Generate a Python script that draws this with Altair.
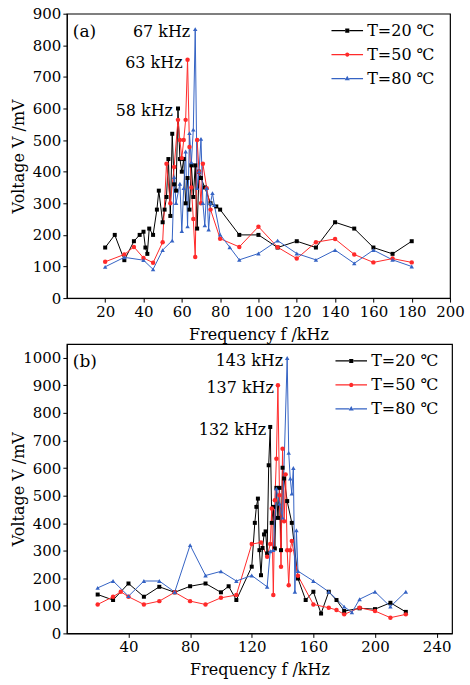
import altair as alt
import pandas as pd

SERIES = ["T=20 ℃", "T=50 ℃", "T=80 ℃"]
COLORS = ["#000000", "#ff2a2a", "#3563c4"]
SHAPES = ["square", "circle", "triangle-up"]
MARK_SIZES = [16, 20, 20]
FONT = "DejaVu Serif"

# ---------------- panel (a) ----------------
a20_f = [20, 25, 30, 35, 38, 40, 41, 42, 43, 45, 47, 48, 50, 51, 52, 53, 54, 55, 56, 57, 58, 59, 60, 61, 62, 63,
         64, 65, 66, 67, 68, 69, 70, 72, 75, 78, 80, 90, 100, 110, 120, 130, 140, 150, 160, 170, 180]
a20_v = [160, 200, 120, 180, 200, 210, 160, 140, 220, 200, 280, 340, 240, 280, 320, 440, 260, 520, 360, 340, 600, 440,
         400, 440, 300, 380, 280, 420, 320, 420, 220, 400, 380, 350, 300, 290, 280, 200, 200, 160, 180, 160, 240, 220,
         160, 140, 180]

a50_f = [20, 30, 35, 40, 45, 50, 52, 54, 56, 58, 59, 60, 61, 62, 63, 64, 65, 66, 67, 68, 69, 70, 71, 73, 75, 80, 90,
         100, 110, 120, 130, 140, 150, 160, 170, 180]
a50_v = [115, 138, 162, 127, 112, 177, 425, 300, 415, 564, 500, 443, 500, 564, 754, 478, 350, 250, 130, 500, 400, 300,
         425, 348, 280, 188, 162, 226, 161, 125, 177, 187, 138, 113, 125, 113]

a80_f = [20, 30, 40, 45, 50, 55, 56, 57, 59, 60, 61, 62, 63, 64, 65, 66, 67, 68, 69, 70, 71, 72, 73, 74, 75, 76, 77,
         80, 85, 90, 100, 110, 120, 130, 140, 150, 160, 170, 180]
a80_v = [99, 129, 120, 91, 152, 182, 383, 301, 362, 212, 348, 464, 227, 522, 430, 533, 851, 348, 401, 504, 301, 230,
         348, 217, 301, 332, 294, 201, 161, 121, 141, 182, 141, 121, 152, 110, 152, 121, 100]

a_peak_f = [67, 63, 58]
a_peak_v = [851, 754, 600]
a_peak_txt = ["67 kHz", "63 kHz", "58 kHz"]
a_ticks_x = [20, 40, 60, 80, 100, 120, 140, 160, 180, 200]
a_ticks_y = [0, 100, 200, 300, 400, 500, 600, 700, 800, 900]

# ---------------- panel (b) ----------------
b20_f = [20, 30, 40, 50, 60, 70, 80, 90, 100, 105, 110, 120, 122, 123, 124, 125, 126, 127, 128, 129, 130, 131, 132,
         133, 134, 135, 136, 137, 138, 139, 140, 141, 143, 146, 150, 155, 160, 165, 170, 175, 180, 190, 200, 210, 220]
b20_v = [141, 121, 181, 133, 169, 149, 171, 181, 149, 171, 121, 242, 401, 459, 489, 302, 211, 310, 359, 370, 290, 610,
         749, 401, 459, 308, 528, 419, 528, 302, 601, 562, 480, 401, 199, 121, 151, 72, 151, 121, 81, 91, 88, 111, 78]

b50_f = [20, 30, 35, 40, 50, 60, 70, 80, 90, 100, 110, 120, 126, 130, 132, 133, 134, 135, 136, 137, 138, 139, 140,
         141, 142, 143, 144, 145, 146, 150, 160, 170, 175, 180, 190, 200, 210, 220]
b50_v = [105, 133, 151, 133, 105, 117, 149, 117, 105, 129, 139, 324, 330, 278, 324, 453, 139, 483, 634, 900, 501, 242,
         670, 407, 577, 302, 175, 302, 335, 209, 105, 93, 85, 69, 93, 81, 57, 69]

b80_f = [20, 30, 40, 50, 60, 70, 80, 90, 100, 110, 120, 130, 132, 134, 136, 138, 140, 143, 144, 145, 146, 147, 148,
         149, 150, 160, 170, 180, 185, 190, 200, 210, 220]
b80_v = [165, 190, 135, 190, 190, 150, 320, 210, 225, 190, 210, 169, 298, 302, 525, 471, 420, 999, 655, 562, 507, 600,
         151, 374, 226, 190, 151, 97, 76, 124, 151, 97, 151]

b_peak_f = [143, 137, 132]
b_peak_v = [999, 900, 749]
b_peak_txt = ["143 kHz", "137 kHz", "132 kHz"]
b_ticks_x = [40, 80, 120, 160, 200, 240]
b_ticks_y = [0, 100, 200, 300, 400, 500, 600, 700, 800, 900, 1000]

# legend symbols: short line with the series marker in its middle (unit square -1..1)
LEG_SQ = ("M-1,-0.04L-0.14,-0.04L-0.14,0.04L-1,0.04Z M0.14,-0.04L1,-0.04L1,0.04L0.14,0.04Z "
          "M-0.13,-0.13L0.13,-0.13L0.13,0.13L-0.13,0.13Z")
LEG_CI = ("M-1,-0.04L-0.14,-0.04L-0.14,0.04L-1,0.04Z M0.14,-0.04L1,-0.04L1,0.04L0.14,0.04Z "
          "M-0.14,0A0.14,0.14,0,1,1,0.14,0A0.14,0.14,0,1,1,-0.14,0Z")
LEG_TR = ("M-1,-0.04L-0.12,-0.04L-0.12,0.04L-1,0.04Z M0.12,-0.04L1,-0.04L1,0.04L0.12,0.04Z "
          "M0,-0.18L0.16,0.1L-0.16,0.1Z")
LEGEND_PATHS = [LEG_SQ, LEG_CI, LEG_TR]


def frame(fs, vs):
    rows = []
    for name, f, v in zip(SERIES, fs, vs):
        for fi, vi in zip(f, v):
            rows.append({"f": fi, "V": vi, "T": name})
    return pd.DataFrame(rows)


def panel(df, peaks, tag, xdom, ydom, xt, yt, w, h, peak_dx, leg_x, leg_y, leg_pad):
    xs = alt.Scale(domain=xdom, nice=False, zero=False)
    ys = alt.Scale(domain=ydom, nice=False, zero=False)
    x = alt.X("f:Q", scale=xs, axis=alt.Axis(values=xt, title="Frequency f /kHz", titlePadding=7))
    y = alt.Y("V:Q", scale=ys, axis=alt.Axis(values=yt, format="d", title="Voltage V /mV", titleX=-40))
    color_scale = alt.Scale(domain=SERIES, range=COLORS)
    legend = alt.Legend(
        title=None, orient="none", legendX=leg_x, legendY=leg_y, padding=0,
        labelFont=FONT, labelFontSize=16, labelColor="black", labelOffset=4,
        symbolSize=1000, symbolStrokeWidth=0, symbolOpacity=1, rowPadding=leg_pad,
    )
    color = alt.Color("T:N", scale=color_scale, legend=legend)
    line = alt.Chart(df).mark_line(strokeWidth=1).encode(
        x=x, y=y, color=color, detail="T:N", order="f:Q"
    )
    layers = [line]
    for s, shp, sz in zip(SERIES, SHAPES, MARK_SIZES):
        layers.append(
            alt.Chart(df).transform_filter(alt.datum.T == s).mark_point(
                filled=True, size=sz, opacity=1, shape=shp
            ).encode(x=x, y=y, color=color)
        )
    leg = alt.Chart(df).mark_point(filled=True, size=4, opacity=0).encode(
        x=x, y=y, color=color,
        shape=alt.Shape("T:N", scale=alt.Scale(domain=SERIES, range=LEGEND_PATHS), legend=legend),
    )
    pk = pd.DataFrame({"f": peaks[0], "V": peaks[1], "txt": peaks[2]})
    ann = alt.Chart(pk).mark_text(
        align="right", baseline="middle", dx=peak_dx, dy=3, font=FONT, fontSize=16, color="black"
    ).encode(x=x, y=y, text="txt:N")
    lab = alt.Chart(pd.DataFrame({"t": [tag]})).mark_text(
        align="left", baseline="middle", font=FONT, fontSize=17, color="black"
    ).encode(x=alt.value(6), y=alt.value(18), text="t:N")
    layers += [leg, ann, lab]
    return alt.layer(*layers).properties(width=w, height=h)


dfa = frame([a20_f, a50_f, a80_f], [a20_v, a50_v, a80_v])
dfb = frame([b20_f, b50_f, b80_f], [b20_v, b50_v, b80_v])

pa = panel(dfa, (a_peak_f, a_peak_v, a_peak_txt), "(a)", [0, 200], [0, 900], a_ticks_x, a_ticks_y,
           384, 285, -5, 265, 1, -2)
pb = panel(dfb, (b_peak_f, b_peak_v, b_peak_txt), "(b)", [0, 250], [0, 1050], b_ticks_x, b_ticks_y,
           386, 290, -4, 269, 1, -0.5)

chart = alt.vconcat(pa, pb, spacing=0).resolve_scale(color="independent", shape="independent").configure(
    padding={"left": 10, "top": 5, "right": 5, "bottom": 5}
).configure_axis(
    labelFont=FONT, labelFontSize=15, labelColor="black", titleFont=FONT, titleFontSize=16,
    titleFontWeight="normal", titleColor="black", tickColor="black", domainColor="black",
    tickSize=4, labelPadding=2, grid=False, labelFlush=False, labelOverlap=False,
).configure_view(stroke="black", strokeWidth=1.2)

chart.save("out.html", embed_options={"renderer": "svg", "actions": False})
